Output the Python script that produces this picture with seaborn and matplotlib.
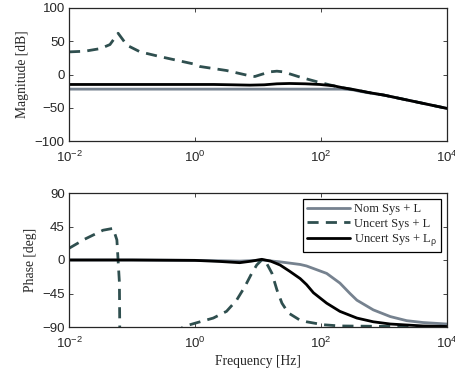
import numpy as np
import pandas as pd
import matplotlib
matplotlib.use("Agg")
import matplotlib.pyplot as plt
import seaborn as sns

# ---- data (log10 of frequency in Hz, values) ----
mag_nom_logf = [-2, -1, 0, 1, 1.5, 2.0, 2.35, 2.5, 2.6, 2.75, 3.0, 3.25, 3.6, 4.0]
mag_nom_db   = [-22, -22, -22, -22, -22, -22, -22, -23, -25, -27.5, -31, -36, -43, -51]

mag_rho_logf = [-2, -1, 0, 0.3, 0.6, 0.87, 1.1, 1.3, 1.5, 1.75, 1.98, 2.2, 2.35, 2.54, 2.75, 3.0, 3.25, 3.6, 4.0]
mag_rho_db   = [-15, -15, -15, -15, -15.5, -16, -15.5, -14, -13.5, -14, -15, -17, -20, -23, -27, -31, -36, -43, -51]

mag_unc_logf = [-2, -1.75, -1.5, -1.35, -1.22, -1.08, -0.87, -0.56, -0.03, 0.08, 0.5, 0.87, 0.95, 1.05, 1.19, 1.3, 1.4, 1.67, 1.94, 2.2, 2.35, 2.54, 2.75, 3.0, 3.25, 3.6, 4.0]
mag_unc_db   = [34, 35, 39, 45, 62, 44, 34, 27, 16, 12, 6, -2, -3, 0, 4, 5, 4, -4, -11, -17, -20, -23, -27, -31, -36, -43, -51]

ph_nom_logf = [-2, -1, 0, 0.4, 0.71, 0.9, 1.06, 1.35, 1.67, 1.77, 2.09, 2.3, 2.46, 2.57, 2.83, 3.1, 3.36, 3.62, 4.0]
ph_nom_deg  = [0, 0, -0.5, -1, -1.5, -0.8, 0, -2.5, -6, -8, -18, -31, -45, -54, -67, -76, -81.5, -84, -86]

ph_rho_logf = [-2, -1, 0, 0.4, 0.71, 0.9, 1.06, 1.2, 1.35, 1.5, 1.67, 1.77, 1.88, 2.09, 2.3, 2.57, 2.83, 3.1, 3.62, 4.0]
ph_rho_deg  = [0, 0, -0.5, -2, -3.6, -1.5, 0.9, -1.5, -6.7, -15, -25, -33, -44, -58, -69, -78, -83, -86, -88.6, -89.3]

ph_unc_logf = [-2, -1.75, -1.46, -1.3, -1.24, -1.2, -1.19, -0.6, -0.19, 0.08, 0.29, 0.5, 0.66, 0.79, 0.9, 0.98, 1.07, 1.14, 1.22, 1.3, 1.38, 1.48, 1.67, 1.77, 2.04, 2.3, 2.8, 3.3, 4.0]
ph_unc_deg  = [15.7, 28, 40, 42.5, 27, -30, -140, -140, -89.6, -83, -78, -69, -54, -36, -18, -6.7, 1, -5, -17.6, -40, -58, -71, -81, -83, -87, -88.6, -89, -89.5, -89.7]

labels = ["Nom Sys + L", "Uncert Sys + L", r"Uncert Sys + L$_\rho$"]
colors = ["#76828f", "#2f4f4f", "#000000"]
xticks_exp = [-2, 0, 2, 4]

def frame(logf, vals, name):
    return pd.DataFrame({"f": 10.0 ** np.array(logf), "v": vals, "s": name})

sns.set_style("ticks")
plt.rcParams["font.family"] = ["Liberation Sans", "DejaVu Sans"]
plt.rcParams["mathtext.fontset"] = "custom"
plt.rcParams["mathtext.rm"] = "Liberation Sans"
plt.rcParams["mathtext.it"] = "Liberation Sans"

fig = plt.figure(figsize=(4.56, 3.73), dpi=100)
ax1 = fig.add_axes([69/456, 1 - 141/373, 378/456, 133/373])
ax2 = fig.add_axes([69/456, 1 - 327/373, 378/456, 134/373])

serif = {"family": "Liberation Serif", "size": 9.8}

top_sets = [(mag_nom_logf, mag_nom_db), (mag_unc_logf, mag_unc_db), (mag_rho_logf, mag_rho_db)]
bot_sets = [(ph_nom_logf, ph_nom_deg), (ph_unc_logf, ph_unc_deg), (ph_rho_logf, ph_rho_deg)]

for ax, sets in ((ax1, top_sets), (ax2, bot_sets)):
    for (lf, vv), lab, col in zip(sets, labels, colors):
        df = frame(lf, vv, lab)
        ls = (0, (4, 2.6)) if "Uncert Sys + L" == lab else "-"
        sns.lineplot(data=df, x="f", y="v", ax=ax, color=col, linewidth=2.0,
                     linestyle=ls, label=lab, sort=False, estimator=None)
    ax.set_xscale("log")
    ax.set_xlim(1e-2, 1e4)
    ax.set_xticks([10.0 ** e for e in xticks_exp])
    ax.set_xticklabels([r"$10^{%d}$" % e for e in xticks_exp])
    ax.minorticks_off()
    ax.tick_params(direction="in", top=True, right=True, labelsize=9.5, length=3, width=0.6)
    ax.tick_params(axis="x", pad=6)
    ax.tick_params(axis="y", pad=3)
    for sp in ax.spines.values():
        sp.set_linewidth(0.9)
        sp.set_visible(True)
    ax.set_xlabel("")

ax1.set_ylim(-100, 100)
ax1.set_yticks([-100, -50, 0, 50, 100])
ax1.set_ylabel("Magnitude [dB]", fontdict=serif, labelpad=4)
ax1.get_legend().remove()

ax2.set_ylim(-90, 90)
ax2.set_yticks([-90, -45, 0, 45, 90])
ax2.set_ylabel("Phase [deg]", fontdict=serif, labelpad=4)
ax2.set_xlabel("Frequency [Hz]", fontdict=serif, labelpad=3)
leg = ax2.legend(loc="upper right", prop={"family": "Liberation Serif", "size": 9},
                 frameon=True, fancybox=False, edgecolor="black", framealpha=1,
                 borderpad=0.35, labelspacing=0.2, handlelength=3.4, handletextpad=0.35,
                 borderaxespad=0.45)
leg.get_frame().set_linewidth(0.9)

fig.savefig("out.png", dpi=100)
